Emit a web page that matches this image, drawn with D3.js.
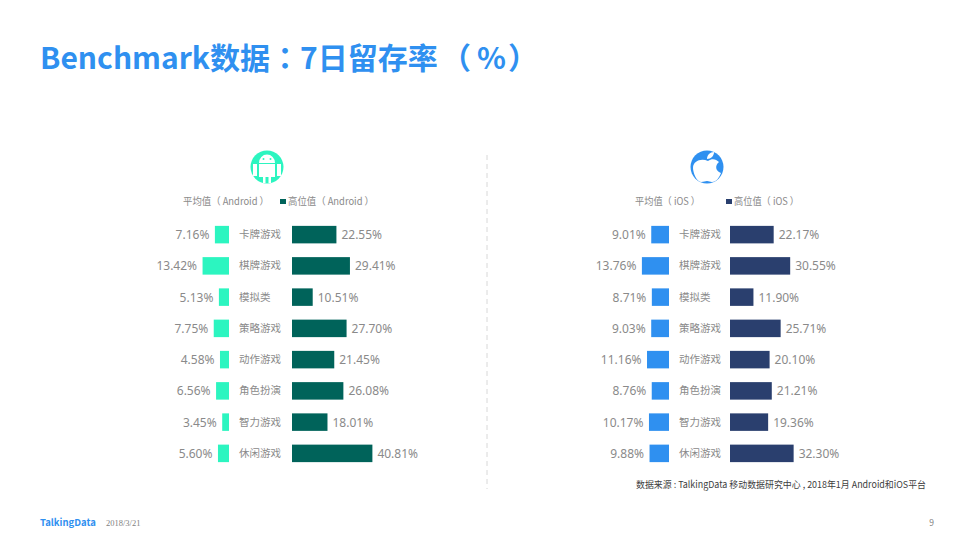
<!DOCTYPE html>
<html>
<head>
<meta charset="utf-8">
<script src="https://cdn.jsdelivr.net/npm/d3@7"></script>
<style>
  html, body { margin: 0; padding: 0; background: #fff; }
  text { font-family: "Noto Sans CJK SC", "Noto Sans", sans-serif; }
</style>
</head>
<body>
<svg id="chart" width="973" height="547"></svg>
<script>
// chart data
const categories = ["卡牌游戏", "棋牌游戏", "模拟类", "策略游戏", "动作游戏", "角色扮演", "智力游戏", "休闲游戏"];
const androidAvg = [7.16, 13.42, 5.13, 7.75, 4.58, 6.56, 3.45, 5.60];
const androidHigh = [22.55, 29.41, 10.51, 27.70, 21.45, 26.08, 18.01, 40.81];
const iosAvg = [9.01, 13.76, 8.71, 9.03, 11.16, 8.76, 10.17, 9.88];
const iosHigh = [22.17, 30.55, 11.90, 25.71, 20.10, 21.21, 19.36, 32.30];

const svg = d3.select("#chart");
const gray = "#8a8a8a";

// same row scale for both panels
const y = d3.scaleBand().domain(categories).range([219, 469]).paddingInner(0.44).paddingOuter(0.22);
// pixels per percent
const w = d3.scaleLinear().domain([0, 50]).range([0, 98.5]);

// title pieces, the colon is set in TC because it sits centered in its box there
function titlePart(x, str) {
  return svg.append("text").attr("x", x).attr("y", 69)
    .attr("font-size", 30).attr("font-weight", 700).attr("fill", "#2f90f0").text(str);
}
const title = titlePart(40, "Benchmark数据");
title.append("tspan").style("font-family", "Noto Sans CJK TC").text("：");
title.append("tspan").text("7日留存率");
titlePart(441, "（");
titlePart(477, "%");
titlePart(508, "）");

function panel(avg, high, avgRight, highLeft, catX, avgColor, highColor) {
  const g = svg.append("g");
  g.selectAll(".avg").data(avg).enter().append("rect")
    .attr("x", d => avgRight - w(d))
    .attr("y", (d, i) => y(categories[i]))
    .attr("width", d => w(d))
    .attr("height", y.bandwidth())
    .attr("fill", avgColor);
  g.selectAll(".high").data(high).enter().append("rect")
    .attr("x", highLeft)
    .attr("y", (d, i) => y(categories[i]))
    .attr("width", d => w(d))
    .attr("height", y.bandwidth())
    .attr("fill", highColor);
  g.selectAll(".avgl").data(avg).enter().append("text")
    .attr("x", d => avgRight - w(d) - 5.5)
    .attr("y", (d, i) => y(categories[i]) + y.bandwidth() / 2 + 4.5)
    .attr("text-anchor", "end").attr("font-size", 12).attr("fill", gray)
    .style("font-family", "Noto Sans")
    .text(d => d.toFixed(2) + "%");
  g.selectAll(".highl").data(high).enter().append("text")
    .attr("x", d => highLeft + w(d) + 5)
    .attr("y", (d, i) => y(categories[i]) + y.bandwidth() / 2 + 4.5)
    .attr("font-size", 12).attr("fill", gray)
    .style("font-family", "Noto Sans")
    .text(d => d.toFixed(2) + "%");
  g.selectAll(".cat").data(categories).enter().append("text")
    .attr("x", catX)
    .attr("y", d => y(d) + y.bandwidth() / 2 + 3.5)
    .attr("font-size", 10.5).attr("fill", gray)
    .text(d => d);
}
panel(androidAvg, androidHigh, 229, 292, 239, "#2cf5c0", "#00635a");
panel(iosAvg, iosHigh, 669, 730, 679, "#2f90f0", "#2a3f6e");

// legends
function legend(avgText, avgX, avgLen, swatchX, highText, highLen, color) {
  svg.append("text").attr("x", avgX).attr("y", 205).attr("font-size", 10).attr("fill", gray)
    .attr("textLength", avgLen).attr("lengthAdjust", "spacingAndGlyphs").text(avgText);
  svg.append("rect").attr("x", swatchX).attr("y", 199).attr("width", 6).attr("height", 5).attr("fill", color);
  svg.append("text").attr("x", swatchX + 8).attr("y", 205).attr("font-size", 10).attr("fill", gray)
    .attr("textLength", highLen).attr("lengthAdjust", "spacingAndGlyphs").text(highText);
}
legend("平均值（ Android ）", 183, 86, 280, "高位值（ Android ）", 86, "#00635a");
legend("平均值（ iOS ）", 635, 65, 726, "高位值（ iOS ）", 65, "#2a3f6e");

// dashed divider
svg.append("line").attr("x1", 487).attr("x2", 487).attr("y1", 155).attr("y2", 489)
  .attr("stroke", "#d8d8d8").attr("stroke-dasharray", "5,4");

// android icon
const a = svg.append("g").attr("transform", "translate(267,167)");
a.append("circle").attr("r", 16.5).attr("fill", "#2cf5c0");
a.append("path").attr("fill", "#fff")
  .attr("d", "M-8,-4 A8,8.5 0 0 1 8,-4 Z M-8,-3 H8 V10 H4 V16 H1.5 V10 H-1.5 V16 H-4 V10 H-8 Z M-14,-3 H-10 V9 H-14 Z M10,-3 H14 V9 H10 Z");
a.append("circle").attr("cx", -3.5).attr("cy", -8).attr("r", 1).attr("fill", "#2cf5c0");
a.append("circle").attr("cx", 3.5).attr("cy", -8).attr("r", 1).attr("fill", "#2cf5c0");

// apple icon
const b = svg.append("g").attr("transform", "translate(707,167)");
b.append("circle").attr("r", 16.5).attr("fill", "#2f90f0");
b.append("path").attr("fill", "#fff")
  .attr("d", "M1,-6 C5,-9 9,-8 12,-5 C8,-2 8,4 14,6 C12,11 9,15 5,15 C3,15 2,14 0,14 C-2,14 -3,15 -6,15 C-10,15 -14,6 -14,1 C-14,-6 -6,-9 1,-6 Z");
b.append("path").attr("fill", "#fff").attr("d", "M0,-8 C0,-12 3,-15 7,-15 C7,-11 4,-8 0,-8 Z");

// source and footer
svg.append("text").attr("x", 636).attr("y", 488)
  .attr("font-size", 9.5).attr("fill", "#404040")
  .attr("textLength", 290).attr("lengthAdjust", "spacingAndGlyphs")
  .text("数据来源 : TalkingData 移动数据研究中心 , 2018年1月 Android和iOS平台");
svg.append("text").attr("x", 40).attr("y", 526).attr("font-size", 9.5).attr("font-weight", 700).attr("fill", "#2f90f0").text("TalkingData");
svg.append("text").attr("x", 106).attr("y", 526).attr("font-size", 8.5).attr("fill", "#7f7f7f").style("font-family", "Liberation Serif").text("2018/3/21");
svg.append("text").attr("x", 934).attr("y", 526).attr("text-anchor", "end").attr("font-size", 8.5).attr("fill", "#7f7f7f").text("9");
</script>
</body>
</html>
